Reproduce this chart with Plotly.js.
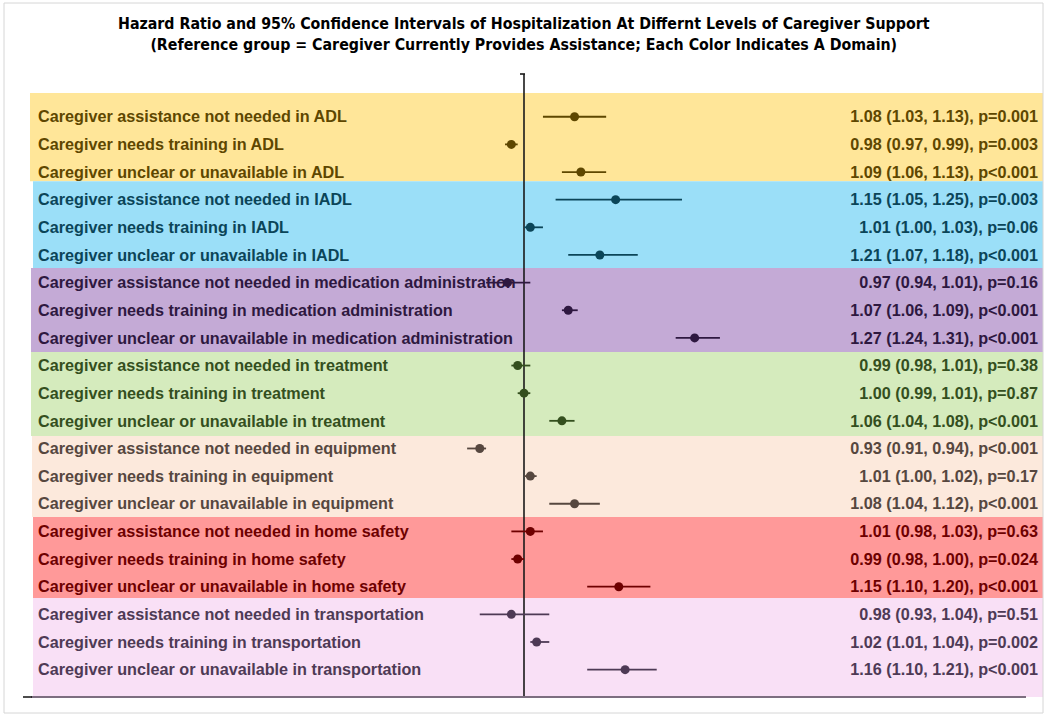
<!DOCTYPE html>
<html>
<head>
<meta charset="utf-8">
<script src="https://cdn.plot.ly/plotly-3.0.1.min.js"></script>
<style>html,body{margin:0;padding:0;background:#fff;}#chart{width:1050px;height:720px;}</style>
</head>
<body>
<div id="chart"></div>
<script>
// ---------------- data ----------------
const titleLines = [
  'Hazard Ratio and 95% Confidence Intervals of Hospitalization At Differnt Levels of Caregiver Support',
  '(Reference group = Caregiver Currently Provides Assistance; Each Color Indicates A Domain)'
];
const domains = ['ADL', 'IADL', 'medication administration', 'treatment', 'equipment', 'home safety', 'transportation'];
const rowLabels = [
  'Caregiver assistance not needed in ADL',
  'Caregiver needs training in ADL',
  'Caregiver unclear or unavailable in ADL',
  'Caregiver assistance not needed in IADL',
  'Caregiver needs training in IADL',
  'Caregiver unclear or unavailable in IADL',
  'Caregiver assistance not needed in medication administration',
  'Caregiver needs training in medication administration',
  'Caregiver unclear or unavailable in medication administration',
  'Caregiver assistance not needed in treatment',
  'Caregiver needs training in treatment',
  'Caregiver unclear or unavailable in treatment',
  'Caregiver assistance not needed in equipment',
  'Caregiver needs training in equipment',
  'Caregiver unclear or unavailable in equipment',
  'Caregiver assistance not needed in home safety',
  'Caregiver needs training in home safety',
  'Caregiver unclear or unavailable in home safety',
  'Caregiver assistance not needed in transportation',
  'Caregiver needs training in transportation',
  'Caregiver unclear or unavailable in transportation'
];
const hr = [1.08, 0.98, 1.09, 1.145, 1.01, 1.12, 0.974, 1.07, 1.27, 0.99, 1.00, 1.06, 0.93, 1.01, 1.08, 1.01, 0.99, 1.15, 0.98, 1.02, 1.16];
const lo = [1.03, 0.97, 1.06, 1.05, 1.00, 1.07, 0.94, 1.06, 1.24, 0.98, 0.99, 1.04, 0.91, 1.00, 1.04, 0.98, 0.98, 1.10, 0.93, 1.01, 1.10];
const hi = [1.13, 0.99, 1.13, 1.25, 1.03, 1.18, 1.01, 1.085, 1.31, 1.01, 1.01, 1.08, 0.94, 1.02, 1.12, 1.03, 1.00, 1.20, 1.04, 1.04, 1.21];
const statText = [
  '1.08 (1.03, 1.13), p=0.001',
  '0.98 (0.97, 0.99), p=0.003',
  '1.09 (1.06, 1.13), p<0.001',
  '1.15 (1.05, 1.25), p=0.003',
  '1.01 (1.00, 1.03), p=0.06',
  '1.21 (1.07, 1.18), p<0.001',
  '0.97 (0.94, 1.01), p=0.16',
  '1.07 (1.06, 1.09), p<0.001',
  '1.27 (1.24, 1.31), p<0.001',
  '0.99 (0.98, 1.01), p=0.38',
  '1.00 (0.99, 1.01), p=0.87',
  '1.06 (1.04, 1.08), p<0.001',
  '0.93 (0.91, 0.94), p<0.001',
  '1.01 (1.00, 1.02), p=0.17',
  '1.08 (1.04, 1.12), p<0.001',
  '1.01 (0.98, 1.03), p=0.63',
  '0.99 (0.98, 1.00), p=0.024',
  '1.15 (1.10, 1.20), p<0.001',
  '0.98 (0.93, 1.04), p=0.51',
  '1.02 (1.01, 1.04), p=0.002',
  '1.16 (1.10, 1.21), p<0.001'
];

// ---------------- styles ----------------
const bandColors = ['#FFE699', '#9BDFF8', '#C4AAD6', '#D5EBBD', '#FCE9DC', '#FF9999', '#F9E0F6'];
const inkColors  = ['#5E4700', '#0B4558', '#2E1840', '#344F1E', '#56473F', '#6E0000', '#4E3A55'];

// pixel geometry of plot area
const L = 23, R = 1045, T = 75, B = 697;
const W = R - L, H = B - T;
const px = v => (v - L) / W;
const py = v => (B - v) / H;
const refPx = 524, pxPerUnit = 632;
const xRange = [1 - (refPx - L) / pxPerUnit, 1 + (R - refPx) / pxPerUnit];
const yRange = [20.99, -1.51];
const pxToData = p => 1 + (p - refPx) / pxPerUnit;
const textNudge = 0.06; // small vertical text alignment offset (row units)

const rowIdx = rowLabels.map((_, i) => i);
const rowDomain = rowLabels.map((_, i) => Math.floor(i / 3));
const labelFont = {family: 'Liberation Sans, Arial, sans-serif', size: 16.2, weight: 'bold', color: rowDomain.map(d => inkColors[d])};

const traces = [];
// text columns (drawn under the markers)
traces.push({
  type: 'scatter', mode: 'text', x: rowIdx.map(() => pxToData(38)), y: rowIdx.map(i => i + textNudge),
  text: rowLabels, textposition: 'middle right', cliponaxis: false, hoverinfo: 'skip', textfont: labelFont
});
traces.push({
  type: 'scatter', mode: 'text', x: rowIdx.map(() => pxToData(1038)), y: rowIdx.map(i => i + textNudge),
  text: statText, textposition: 'middle left', cliponaxis: false, hoverinfo: 'skip', textfont: labelFont
});
domains.forEach((dom, g) => {
  const idx = rowIdx.filter(i => rowDomain[i] === g);
  traces.push({
    type: 'scatter', mode: 'markers', name: dom,
    x: idx.map(i => hr[i]), y: idx,
    error_x: {type: 'data', symmetric: false, array: idx.map(i => hi[i] - hr[i]), arrayminus: idx.map(i => hr[i] - lo[i]),
              color: inkColors[g], thickness: 1.8, width: 0},
    marker: {size: 9, color: inkColors[g]},
    cliponaxis: false
  });
});

const bandEdges = [-0.86, 2.33, 5.47, 8.51, 11.55, 14.48, 17.41, 20.99];
const bandLeft = [30, 33, 31, 31, 32, 33, 33];
const shapes = [];
domains.forEach((d, g) => {
  shapes.push({type: 'rect', xref: 'paper', yref: 'y', x0: px(bandLeft[g]), x1: px(1043),
    y0: bandEdges[g], y1: bandEdges[g + 1], fillcolor: bandColors[g], line: {width: 0}, layer: 'below'});
});
// reference line at HR = 1
shapes.push({type: 'line', xref: 'x', yref: 'paper', x0: 1, x1: 1, y0: 0, y1: py(74), line: {color: '#1a1a1a', width: 1.6}, layer: 'below'});
shapes.push({type: 'line', xref: 'paper', yref: 'paper', x0: px(520), x1: px(525), y0: py(74), y1: py(74), line: {color: '#1a1a1a', width: 1.6}, layer: 'below'});
// bottom axis line
shapes.push({type: 'line', xref: 'paper', yref: 'paper', x0: px(31), x1: px(1026), y0: py(697), y1: py(697), line: {color: '#7d6e80', width: 2}});
shapes.push({type: 'line', xref: 'paper', yref: 'paper', x0: px(23), x1: px(32), y0: py(697), y1: py(697), line: {color: '#111', width: 1.5}});
// outer frame
shapes.push({type: 'rect', xref: 'paper', yref: 'paper', x0: px(4), x1: px(1043), y0: py(3), y1: py(713), line: {color: '#d6d6d6', width: 1}, fillcolor: 'rgba(0,0,0,0)'});

const layout = {
  width: 1050, height: 720,
  margin: {l: L, r: 1050 - R, t: T, b: 720 - B},
  paper_bgcolor: '#fff', plot_bgcolor: 'rgba(0,0,0,0)',
  showlegend: false,
  xaxis: {range: xRange, visible: false, fixedrange: true},
  yaxis: {range: yRange, visible: false, fixedrange: true},
  shapes: shapes,
  annotations: [{
    text: titleLines.join('<br>'), showarrow: false,
    xref: 'paper', yref: 'paper', x: px(524), y: py(34), xanchor: 'center', yanchor: 'middle',
    font: {family: 'Liberation Sans Narrow, Arial Narrow, DejaVu Sans Condensed, sans-serif', size: 15.8, weight: 'bold', color: '#000'}
  }]
};

Plotly.newPlot('chart', traces, layout, {displayModeBar: false, staticPlot: true});
</script>
</body>
</html>
